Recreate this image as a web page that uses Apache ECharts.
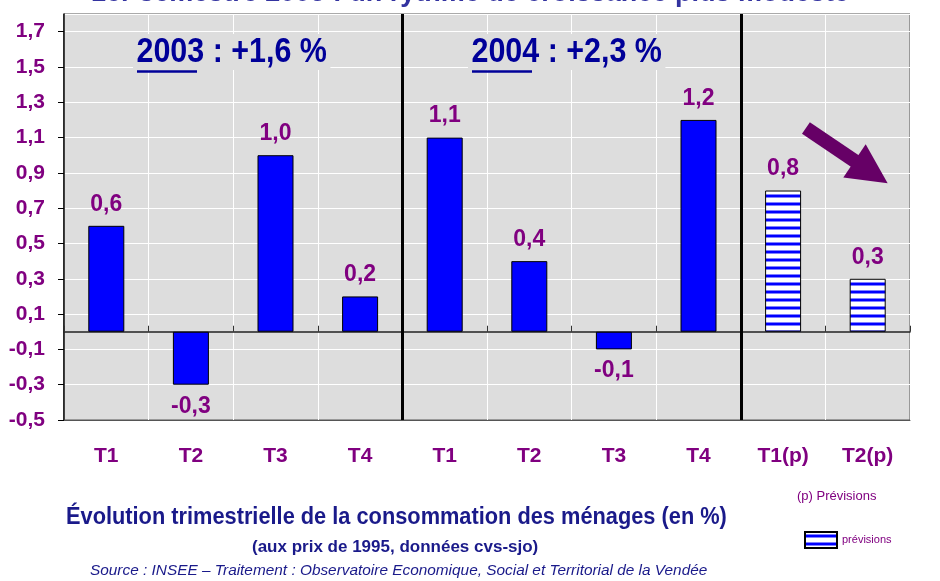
<!DOCTYPE html>
<html>
<head>
<meta charset="utf-8">
<script src="https://cdn.jsdelivr.net/npm/echarts@6/dist/echarts.min.js"></script>
<style>
  html, body { margin: 0; background: #fff; }
  #chart { width: 940px; height: 581px; }
</style>
</head>
<body>
<div id="chart"></div>
<script>
// chart data
var categories = ['T1', 'T2', 'T3', 'T4', 'T1', 'T2', 'T3', 'T4', 'T1(p)', 'T2(p)'];
var observed = [0.6, -0.3, 1.0, 0.2, 1.1, 0.4, -0.1, 1.2, null, null];
var forecast = [null, null, null, null, null, null, null, null, 0.8, 0.3];
var yearNotes = ['2003', ' : +1,6 %', '2004', ' : +2,3 %'];
var separators = [4, 8]; // boundaries between years (in category units)

var PURPLE = '#800080';
var NAVY = '#1a1a8a';
var BLUE_NOTE = '#000099';
var FONT = '"Liberation Sans", Arial, sans-serif';

function fmt(v) {
  return v.toFixed(1).replace('.', ',');
}

// striped fill for the forecast bars
var pat = document.createElement('canvas');
pat.width = 8; pat.height = 8;
var ctx = pat.getContext('2d');
ctx.fillStyle = '#ffffff';
ctx.fillRect(0, 0, 8, 8);
ctx.fillStyle = '#8080ff';
ctx.fillRect(0, 2, 8, 4);
ctx.fillStyle = '#0000ff';
ctx.fillRect(0, 3, 8, 2);

function toItems(arr) {
  return arr.map(function (v) {
    if (v === null) return '-';
    return { value: v, label: { position: v < 0 ? 'bottom' : 'top' } };
  });
}

var barLabel = {
  show: true,
  distance: 10,
  color: PURPLE,
  fontFamily: FONT,
  fontWeight: 'bold',
  fontSize: 23,
  formatter: function (p) { return fmt(p.value); }
};

// narrow-looking text (no condensed font installed)
function narrowText(x, y, text, font, color, sx, extra) {
  var style = { text: text, fill: color, font: font };
  for (var k in (extra || {})) style[k] = extra[k];
  return { type: 'text', x: x, y: y, z: 100, scaleX: sx, originX: 0, style: style };
}

var noteStyle = {
  backgroundColor: '#dddddd',
  padding: [1, 4, 0, 4],
  rich: { u: { fill: BLUE_NOTE, font: 'bold 35px ' + FONT } }
};

var chart = echarts.init(document.getElementById('chart'));
chart.setOption({
  animation: false,
  textStyle: { fontFamily: FONT },
  grid: {
    left: 64, right: 30, top: 14, bottom: 161,
    show: true,
    backgroundColor: '#dddddd',
    borderColor: '#555555',
    borderWidth: 1
  },
  legend: {
    data: [{ name: 'prévisions', icon: 'rect' }],
    left: 799, top: 526,
    itemWidth: 32, itemHeight: 16,
    itemGap: 8,
    textStyle: { color: PURPLE, fontSize: 11, fontFamily: FONT }
  },
  xAxis: [
    {
      type: 'category',
      data: categories,
      position: 'bottom',
      axisLine: { onZero: false, lineStyle: { color: '#555', width: 1 } },
      axisTick: { show: false },
      splitLine: { show: true, lineStyle: { color: '#ffffff', width: 1 } },
      axisLabel: {
        color: PURPLE, fontWeight: 'bold', fontSize: 21, margin: 26,
        fontFamily: FONT, interval: 0
      }
    },
    {
      type: 'category',
      data: categories,
      position: 'bottom',
      axisLine: { onZero: true, lineStyle: { color: '#222', width: 1.5 } },
      axisTick: { show: true, inside: true, length: 6, lineStyle: { color: '#333' } },
      axisLabel: { show: false },
      splitLine: { show: false }
    },
    {
      type: 'value',
      min: 0, max: categories.length,
      show: false
    }
  ],
  yAxis: {
    type: 'value',
    min: -0.5, max: 1.8,
    interval: 0.2,
    axisLine: { show: true, lineStyle: { color: '#000', width: 1.5 } },
    axisTick: { show: true, length: 6, lineStyle: { color: '#000' } },
    splitLine: { show: true, lineStyle: { color: '#ffffff', width: 1 } },
    axisLabel: {
      showMaxLabel: false,
      color: PURPLE, fontWeight: 'bold', fontSize: 21, margin: 19,
      fontFamily: FONT,
      formatter: function (v) { return fmt(v); }
    }
  },
  series: [
    {
      name: 'observé',
      type: 'bar',
      xAxisIndex: 0,
      barWidth: 36,
      barGap: '-100%',
      itemStyle: { color: '#0000ff', borderColor: '#000', borderWidth: 1 },
      label: barLabel,
      data: toItems(observed)
    },
    {
      name: 'prévisions',
      type: 'bar',
      xAxisIndex: 0,
      barWidth: 36,
      barGap: '-100%',
      itemStyle: { color: { image: pat, repeat: 'repeat' }, borderColor: '#000', borderWidth: 1 },
      label: barLabel,
      data: toItems(forecast)
    },
    {
      name: 'séparateurs',
      type: 'scatter',
      xAxisIndex: 2,
      data: [],
      silent: true,
      markLine: {
        silent: true,
        symbol: 'none',
        label: { show: false },
        lineStyle: { color: '#000', width: 3, type: 'solid' },
        data: separators.map(function (s) { return { xAxis: s }; })
      }
    },
    {
      name: 'tendance',
      type: 'scatter',
      xAxisIndex: 2,
      data: [],
      silent: true,
      markLine: {
        silent: true,
        symbol: ['none', 'triangle'],
        symbolSize: 40,
        label: { show: false },
        lineStyle: { color: '#660066', width: 14, type: 'solid' },
        itemStyle: { color: '#660066' },
        data: [[{ coord: [8.77, 1.154] }, { coord: [9.54, 0.905] }]]
      }
    }
  ],
  graphic: [
    {
      type: 'text', left: 'center', top: -20, z: 100,
      style: {
        text: '1er semestre 2005 : un rythme de croissance plus modeste',
        fill: '#3333a0', font: 'bold 27px ' + FONT
      }
    },
    narrowText(133, 34, '{u|' + yearNotes[0] + '}' + yearNotes[1], 'bold 35px ' + FONT, BLUE_NOTE, 0.87, noteStyle),
    { type: 'line', z: 101, shape: { x1: 137, y1: 71.5, x2: 197, y2: 71.5 }, style: { stroke: BLUE_NOTE, lineWidth: 2.5 } },
    narrowText(468, 34, '{u|' + yearNotes[2] + '}' + yearNotes[3], 'bold 35px ' + FONT, BLUE_NOTE, 0.87, noteStyle),
    { type: 'line', z: 101, shape: { x1: 472, y1: 71.5, x2: 532, y2: 71.5 }, style: { stroke: BLUE_NOTE, lineWidth: 2.5 } },
    {
      type: 'text', left: 797, top: 490, z: 100,
      style: { text: '(p) Prévisions', fill: PURPLE, font: '13px ' + FONT }
    },
    narrowText(66, 506, 'Évolution trimestrielle de la consommation des ménages (en %)', 'bold 23px ' + FONT, NAVY, 0.947),
    narrowText(252, 539, '(aux prix de 1995, données cvs-sjo)', 'bold 17px ' + FONT, NAVY, 1),
    narrowText(90, 563, 'Source : INSEE – Traitement : Observatoire Economique, Social et Territorial de la Vendée', 'italic 15px ' + FONT, NAVY, 1.025)
  ]
});
</script>
</body>
</html>
